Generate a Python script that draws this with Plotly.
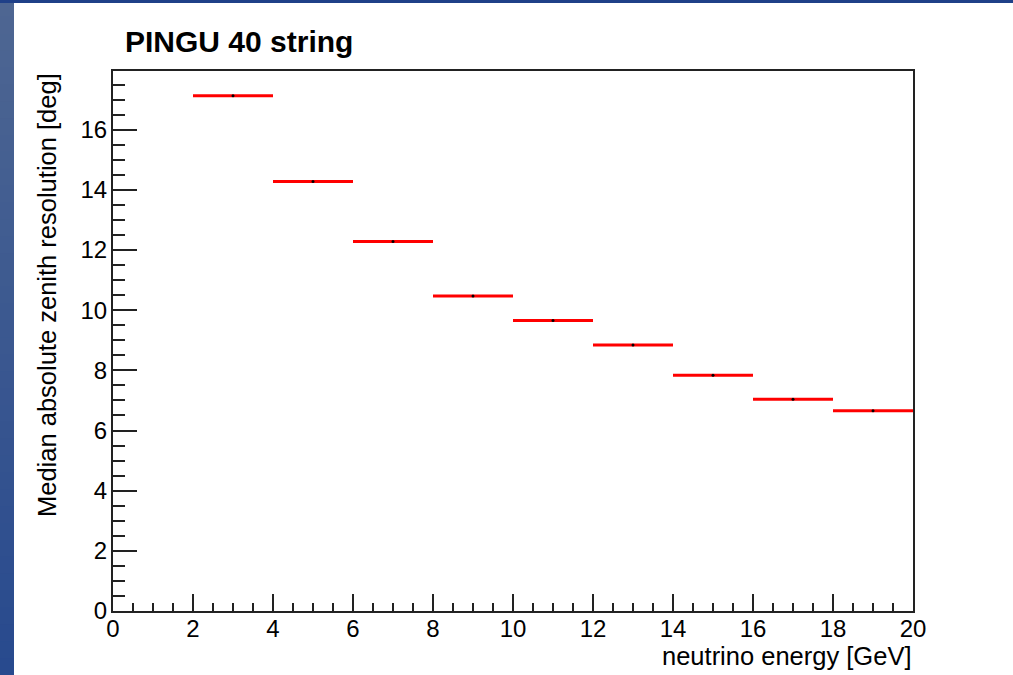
import plotly.graph_objects as go

# Median absolute zenith resolution per 2 GeV energy bin
bin_low = [2, 4, 6, 8, 10, 12, 14, 16, 18]
bin_width = 2
resolution_deg = [17.13, 14.28, 12.28, 10.47, 9.66, 8.84, 7.84, 7.04, 6.66]

title_text = "PINGU 40 string"
x_title = "neutrino energy [GeV]"
y_title = "Median absolute zenith resolution [deg]"

W, H = 1013, 675
L, R, T, B = 113, 100, 71, 64
PW, PH = W - L - R, H - T - B


def px_x(p):
    return (p - L) / PW


def px_y(p):
    return (H - B - p) / PH


centers = [lo + bin_width / 2 for lo in bin_low]
half = [bin_width / 2] * len(bin_low)

fig = go.Figure()
fig.add_trace(go.Scatter(
    x=centers, y=resolution_deg, mode="markers",
    marker=dict(color="black", size=3),
    error_x=dict(type="data", array=half, color="#ff0000", thickness=3, width=0),
    showlegend=False, hoverinfo="x+y",
))

font = "Liberation Sans, Arial, sans-serif"

# slide background: blue strip on the left and a thin band on top
shapes = []
n_bands = 40
top_c = (78, 102, 146)
bot_c = (40, 74, 142)
for i in range(n_bands):
    f = i / (n_bands - 1)
    c = tuple(round(top_c[k] + (bot_c[k] - top_c[k]) * f) for k in range(3))
    y0 = H * i / n_bands
    y1 = H * (i + 1) / n_bands + 3  # overlap to avoid seams
    shapes.append(dict(type="rect", xref="paper", yref="paper",
                       x0=px_x(-2), x1=px_x(14), y0=px_y(min(y1, H + 2)), y1=px_y(y0),
                       fillcolor="rgb(%d,%d,%d)" % c, line=dict(width=0), layer="below"))
shapes.append(dict(type="rect", xref="paper", yref="paper",
                   x0=px_x(-2), x1=px_x(W + 2), y0=px_y(3), y1=px_y(-2),
                   fillcolor="#1f4088", line=dict(width=0), layer="below"))

fig.update_layout(
    width=W, height=H,
    margin=dict(l=L, r=R, t=T, b=B),
    paper_bgcolor="white", plot_bgcolor="white",
    shapes=shapes,
    font=dict(family=font, color="black"),
    xaxis=dict(
        range=[0, 20], dtick=2, tick0=0,
        ticks="inside", ticklen=17, tickwidth=1.5, tickcolor="#222",
        minor=dict(dtick=0.5, ticks="inside", ticklen=8, tickwidth=1.5, tickcolor="#222"),
        showline=True, linewidth=2, linecolor="#222", mirror=True,
        showgrid=False, zeroline=False,
        tickfont=dict(size=24, family=font), ticklabelstandoff=-5,
    ),
    yaxis=dict(
        range=[0, 17.95], dtick=2, tick0=0,
        ticks="inside", ticklen=24, tickwidth=1.5, tickcolor="#222",
        minor=dict(dtick=0.5, ticks="inside", ticklen=12, tickwidth=1.5, tickcolor="#222"),
        showline=True, linewidth=2, linecolor="#222", mirror=True,
        showgrid=False, zeroline=False,
        tickfont=dict(size=24, family=font), ticklabelstandoff=-1,
    ),
    annotations=[
        dict(text="<b>%s</b>" % title_text, xref="paper", yref="paper",
             x=px_x(123), y=px_y(42), xanchor="left", yanchor="middle",
             showarrow=False, font=dict(size=30, family=font)),
        dict(text=x_title, xref="paper", yref="paper",
             x=1, y=px_y(656), xanchor="right", yanchor="middle",
             showarrow=False, font=dict(size=25.5, family=font)),
        dict(text=y_title, xref="paper", yref="paper", textangle=-90,
             x=px_x(47), y=px_y(71), xanchor="center", yanchor="top",
             showarrow=False, font=dict(size=25.5, family=font)),
    ],
)

fig.write_html("out.html")
